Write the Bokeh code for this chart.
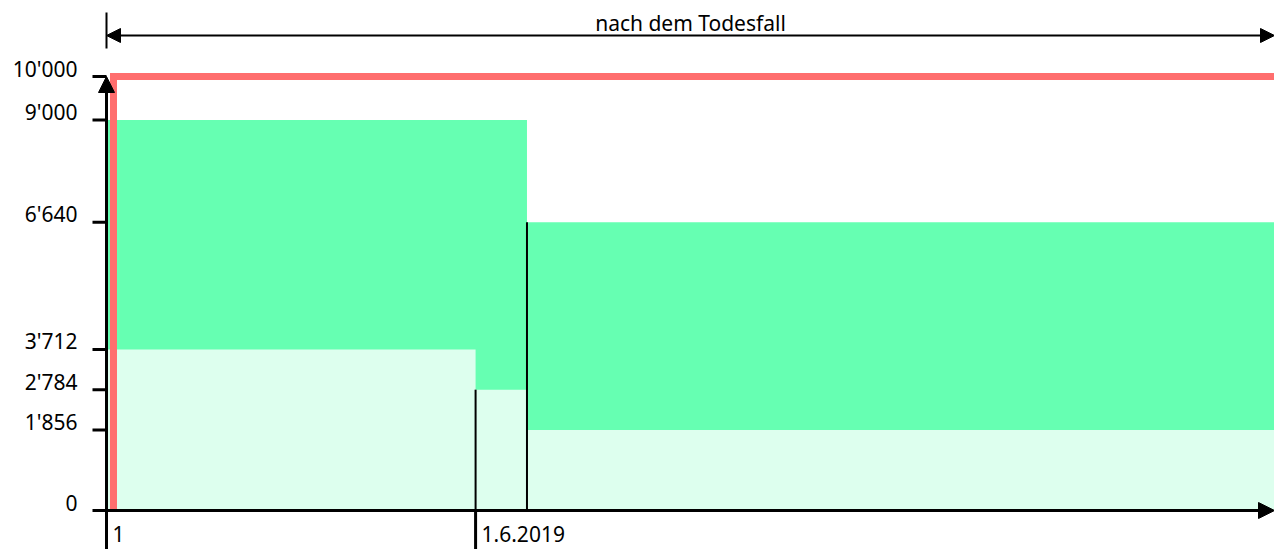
import math
from bokeh.plotting import figure
from bokeh.models import Range1d, Arrow, NormalHead, ColumnDataSource
from bokeh.core.properties import value
from bokeh.embed import file_html
from bokeh.resources import INLINE

# ---------------- data ----------------
upper_left = [0.0, 36.0]
upper_right = [36.0, 100.0]
upper_top = [9000, 6640]

lower_left = [0.0, 31.6, 36.0]
lower_right = [31.6, 36.0, 100.0]
lower_top = [3712, 2784, 1856]

cap_level = 10000
cap_start = 0.6
cap_end = 100.0

divider_x = [31.6, 36.0]
divider_top = [2784, 6640]

y_ticks = [0, 1856, 2784, 3712, 6640, 9000, 10000]
y_tick_labels = ["0", "1'856", "2'784", "3'712", "6'640", "9'000", "10'000"]
x_ticks = [0.0, 31.6]
x_tick_labels = ["1", "1.6.2019"]
span_label = "nach dem Todesfall"

# ---------------- layout ----------------
W, H = 1274, 549
X0_PX = 106           # pixel position of x=0 inside the plot
X_MAX = 100.0
sx = (W - X0_PX) / X_MAX
x_start = -X0_PX / sx

Y0_PX = 510           # pixel (from top) of y=0
YT_PX = 76            # pixel (from top) of y=10000
sy = (Y0_PX - YT_PX) / cap_level
y_start = -(H - Y0_PX) / sy
y_end = cap_level + YT_PX / sy


def ypx(py):
    return cap_level + (YT_PX - py) / sy


FONT = value("Noto Sans")
FS = "21px"

p = figure(width=W, height=H, x_range=Range1d(x_start, X_MAX), y_range=Range1d(y_start, y_end),
           output_backend="svg", toolbar_location=None, min_border=0,
           x_axis_location=None, y_axis_location=None, outline_line_color=None,
           background_fill_color="white", border_fill_color="white")
p.grid.visible = False

DARK = "#66FFB2"
LIGHT = "#DDFFEE"
RED = "#FF6E6E"

p.quad(source=ColumnDataSource(dict(l=upper_left, r=upper_right, t=upper_top)),
       left="l", right="r", bottom=0, top="t", fill_color=DARK, line_color=None)
p.quad(source=ColumnDataSource(dict(l=lower_left, r=lower_right, t=lower_top)),
       left="l", right="r", bottom=0, top="t", fill_color=LIGHT, line_color=None)

# red cap line
p.line(x=[cap_start, cap_start, cap_end], y=[0, cap_level, cap_level],
       line_color=RED, line_width=7, line_join="miter")

# black dividers
p.segment(x0=divider_x, y0=[0] * len(divider_x), x1=divider_x, y1=divider_top,
          line_color="black", line_width=2)

# x ticks (long, downward)
p.segment(x0=x_ticks, y0=[0] * len(x_ticks), x1=x_ticks, y1=[y_start] * len(x_ticks),
          line_color="black", line_width=3)

# y ticks
p.ray(x=[0] * len(y_ticks), y=y_ticks, length=14, length_units="screen", angle=math.pi,
      line_color="black", line_width=3)

# axes with arrow heads
p.add_layout(Arrow(end=NormalHead(size=16, fill_color="black", line_color="black", line_width=1),
                   x_start=0, y_start=y_start, x_end=0, y_end=cap_level,
                   line_color="black", line_width=3))
p.add_layout(Arrow(end=NormalHead(size=16, fill_color="black", line_color="black", line_width=1),
                   x_start=0, y_start=0, x_end=X_MAX, y_end=0,
                   line_color="black", line_width=3))

# top span annotation
ya = ypx(35)
p.add_layout(Arrow(start=NormalHead(size=14, fill_color="black", line_color="black", line_width=1),
                   end=NormalHead(size=14, fill_color="black", line_color="black", line_width=1),
                   x_start=0, y_start=ya, x_end=X_MAX, y_end=ya,
                   line_color="black", line_width=2))
p.segment(x0=[0], y0=[ypx(12)], x1=[0], y1=[ypx(48)], line_color="black", line_width=2)
p.text(x=[X_MAX / 2], y=[ya], text=[span_label], y_offset=-13,
       text_align="center", text_baseline="middle",
       text_font=FONT, text_font_size=FS, text_color="black")

# tick labels
p.text(x=[0] * len(y_ticks), y=y_ticks, text=y_tick_labels, x_offset=-29, y_offset=-8,
       text_align="right", text_baseline="middle",
       text_font=FONT, text_font_size=FS, text_color="black")
p.text(x=x_ticks, y=[0] * len(x_ticks), text=x_tick_labels, x_offset=6, y_offset=23,
       text_align="left", text_baseline="middle",
       text_font=FONT, text_font_size=FS, text_color="black")

open("out.html", "w").write(file_html(p, INLINE))
